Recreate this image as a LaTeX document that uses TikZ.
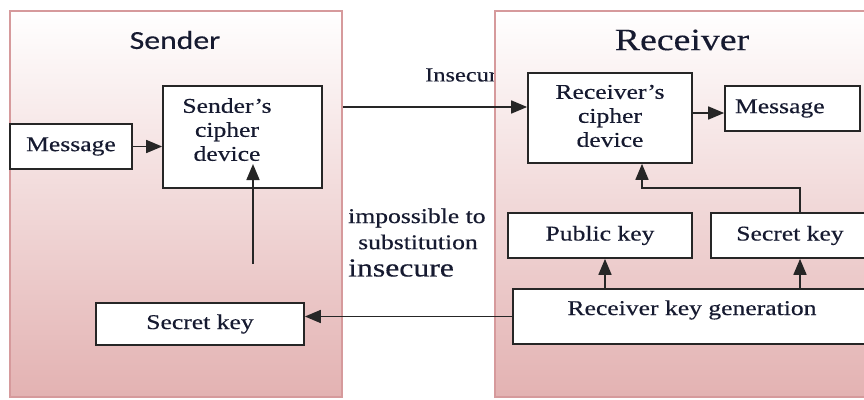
\documentclass[tikz,border=0pt]{standalone}
\usepackage{fontspec}
\setmainfont{Liberation Serif}[FakeBold=0.35]
\newfontfamily\calfont{Carlito}[FakeBold=0.3]
\usetikzlibrary{arrows.meta,calc}
\definecolor{panelbot}{HTML}{E3B2B2}
\definecolor{panelline}{HTML}{D69A9C}
\definecolor{boxline}{HTML}{262626}
\definecolor{txt}{HTML}{161A30}
\newcommand{\wx}[1]{\scalebox{1.22}[1]{#1}}
\newcommand{\stk}[1]{\wx{\begin{tabular}{@{}c@{}}#1\end{tabular}}}
\begin{document}
\begin{tikzpicture}[x=1pt,y=-1pt,
  panel/.style={draw=panelline, line width=1.8pt, top color=white, bottom color=panelbot, inner sep=0pt},
  box/.style={draw=boxline, fill=white, line width=1.7pt, inner sep=0pt, text=txt, font=\fontsize{21}{24}\selectfont},
  lbl/.style={inner sep=0pt, text=txt, font=\fontsize{21}{24}\selectfont},
  conn/.style={draw=boxline, line width=1.7pt},
  arr/.style={conn, -{Triangle[length=16pt,width=13pt]}}]
\useasboundingbox (0,0) rectangle (864,399);
\fill[white] (0,0) rectangle (864,399);
\clip (0,0) rectangle (864,399);

% sender panel
\node[panel, minimum width=332, minimum height=386] (sp) at (176,204) {};
\node[lbl, font=\calfont\fontsize{26}{30}\selectfont] (stitle) at (175,40) {\wx{Sender}};
\node[lbl, anchor=west, font=\fontsize{20}{24}\selectfont] (ins) at (425,75) {\wx{Insecure}};
% receiver panel (covers the end of the label)
\node[panel, minimum width=385, minimum height=386] (rp) at (687.5,204) {};
\node[lbl, font=\fontsize{31}{36}\selectfont] (rtitle) at (682,40) {\wx{Receiver}};

% sender boxes
\node[box, minimum width=122, minimum height=45] (smsg) at (71,146.5) {\wx{Message}};
\node[box, minimum width=159, minimum height=102] (scd) at (242.5,137) {};
\node[lbl] (scdt) at (227,132) {\stk{Sender’s\\cipher\\device}};
\node[box, minimum width=208, minimum height=42] (ssk) at (200,324) {\wx{Secret key}};

% receiver boxes
\node[box, minimum width=164, minimum height=90] (rcd) at (610,118) {\stk{Receiver’s\\cipher\\device}};
\node[box, minimum width=135, minimum height=45, text width=115pt, inner xsep=10pt, align=left] (rmsg) at (792.5,108.5) {\wx{Message}};
\node[box, minimum width=184, minimum height=45] (pk) at (600,235.5) {\wx{Public key}};
\node[box, minimum width=158, minimum height=45] (rsk) at (790,235.5) {\wx{Secret key}};
\node[box, minimum width=358, minimum height=55] (kg) at (692,316.5) {};
\node[lbl] (kgt) at (692,310) {\wx{Receiver key generation}};

% middle texts
\node[lbl, anchor=west] (imp) at (348,218) {\wx{impossible to}};
\node[lbl, anchor=west] (sub) at (358,242) {\wx{substitution}};
\node[lbl, anchor=west, font=\fontsize{26}{30}\selectfont] (insc) at (348,268) {\wx{insecure}};

% connectors
\draw[arr] (smsg.east) -- (smsg.east -| scd.west);
\coordinate (sfoot) at (253,264);
\coordinate (stip) at (253,164);
\draw[arr] (sfoot) -- (stip);
\coordinate (insy) at (0,107);
\draw[arr] (sp.east |- insy) -- (rcd.west |- insy);
\coordinate (rmy) at (0,113);
\draw[arr] (rcd.east |- rmy) -- (rmsg.west |- rmy);
\coordinate (pkx) at (605,0);
\draw[arr] (kg.north -| pkx) -- (pk.south -| pkx);
\coordinate (skx) at (800,0);
\draw[arr] (kg.north -| skx) -- (rsk.south -| skx);
\coordinate (rety) at (0,188);
\coordinate (retx) at (642,0);
\draw[arr] (rsk.north -| skx) |- (retx |- rety) -- (rcd.south -| retx);
\draw[arr] (kg.west) -- (kg.west -| ssk.east);
\end{tikzpicture}
\end{document}
